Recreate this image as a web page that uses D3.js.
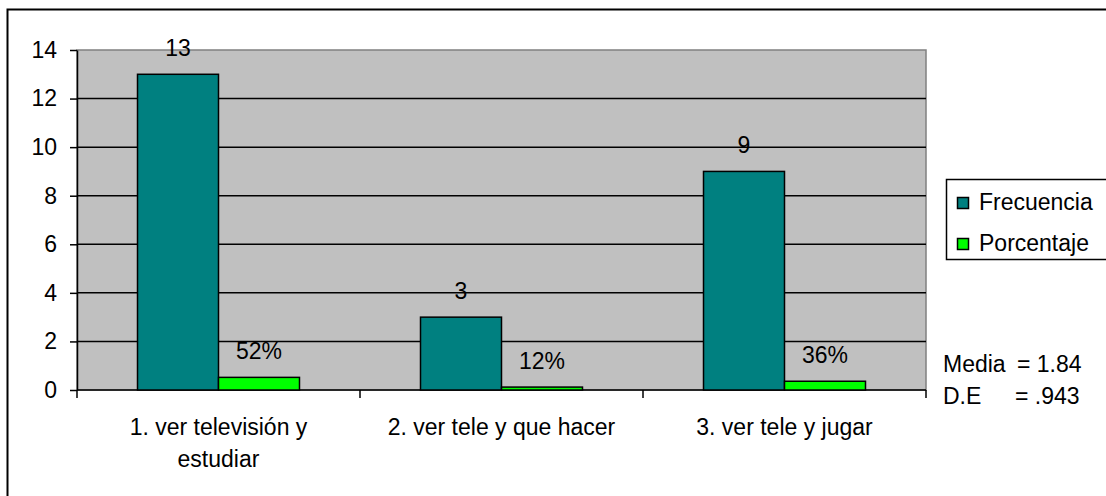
<!DOCTYPE html>
<html>
<head>
<meta charset="utf-8">
<script src="https://cdn.jsdelivr.net/npm/d3@7"></script>
<style>
  body { margin: 0; background: #fff; }
  svg { display: block; font-family: "Liberation Sans", Arial, sans-serif; }
</style>
</head>
<body>
<div id="chart"></div>
<script>
// Chart data
const categories = ['1. ver televisión y|estudiar', '2. ver tele y que hacer', '3. ver tele y jugar'];
const seriesNames = ['Frecuencia', 'Porcentaje'];
const frecuencia = [13, 3, 9];
const porcentaje = [0.52, 0.12, 0.36];
const porcentajeLabels = ['52%', '12%', '36%'];
const yTicks = [0, 2, 4, 6, 8, 10, 12, 14];
const statsLines = [['Media', '= 1.84'], ['D.E', '= .943']];

// Layout
const config = {
    width: 1106,
    height: 496,
    plotLeft: 77,
    plotRight: 926,
    plotTop: 50,
    plotBottom: 390,
    fontSize: 23
};
const colors = { Frecuencia: '#008080', Porcentaje: '#00ff00' };

const svg = d3.select('#chart')
    .append('svg')
    .attr('width', config.width)
    .attr('height', config.height);

// Outer frame (clipped on right and bottom in the original)
svg.append('rect')
    .attr('x', 7.5).attr('y', 9.5)
    .attr('width', 1110).attr('height', 500)
    .attr('fill', 'none')
    .attr('stroke', '#000')
    .attr('stroke-width', 2);

// Scales
const y = d3.scaleLinear()
    .domain([0, 14])
    .range([config.plotBottom, config.plotTop]);

const x0 = d3.scaleBand()
    .domain(categories)
    .range([config.plotLeft, config.plotRight])
    .padding(0);

const x1 = d3.scaleBand()
    .domain(seriesNames)
    .range([0, x0.bandwidth()])
    .paddingInner(0)
    .paddingOuter(0.747);

// Plot background
svg.append('rect')
    .attr('x', config.plotLeft)
    .attr('y', config.plotTop)
    .attr('width', config.plotRight - config.plotLeft)
    .attr('height', config.plotBottom - config.plotTop)
    .attr('fill', '#c0c0c0')
    .attr('stroke', '#808080')
    .attr('stroke-width', 1.5);

// Gridlines
svg.append('g')
    .selectAll('line')
    .data(yTicks.filter(t => t > 0 && t < 14))
    .enter().append('line')
    .attr('x1', config.plotLeft)
    .attr('x2', config.plotRight)
    .attr('y1', d => y(d))
    .attr('y2', d => y(d))
    .attr('stroke', '#000')
    .attr('stroke-width', 1.5);

// Y axis
const yAxis = svg.append('g')
    .attr('transform', `translate(${config.plotLeft},0)`)
    .call(d3.axisLeft(y).tickValues(yTicks).tickSize(7).tickPadding(13).tickSizeOuter(0));
yAxis.select('.domain').attr('stroke', '#000').attr('stroke-width', 1.5);
yAxis.selectAll('.tick line').attr('stroke', '#000').attr('stroke-width', 1.5);
yAxis.selectAll('.tick text')
    .attr('fill', '#000')
    .style('font-size', config.fontSize + 'px')
    .style('font-family', '"Liberation Sans", Arial, sans-serif');

// X axis line and boundary ticks
const boundaries = categories.map(c => x0(c)).concat([config.plotRight]);
svg.append('line')
    .attr('x1', config.plotLeft).attr('x2', config.plotRight)
    .attr('y1', config.plotBottom).attr('y2', config.plotBottom)
    .attr('stroke', '#000').attr('stroke-width', 1.5);
svg.append('g')
    .selectAll('line')
    .data(boundaries)
    .enter().append('line')
    .attr('x1', d => d).attr('x2', d => d)
    .attr('y1', config.plotBottom).attr('y2', config.plotBottom + 8)
    .attr('stroke', '#000').attr('stroke-width', 1.5);

// Category labels
svg.append('g')
    .selectAll('text')
    .data(categories)
    .enter().append('text')
    .attr('text-anchor', 'middle')
    .style('font-size', config.fontSize + 'px')
    .attr('fill', '#000')
    .each(function(d) {
        const t = d3.select(this);
        d.split('|').forEach((line, i) => {
            t.append('tspan')
                .attr('x', x0(d) + x0.bandwidth() / 2)
                .attr('y', 435 + i * 32)
                .text(line);
        });
    });

// Bars
const rows = categories.map((c, i) => ({
    category: c,
    values: [
        { series: 'Frecuencia', value: frecuencia[i], label: String(frecuencia[i]) },
        { series: 'Porcentaje', value: porcentaje[i], label: porcentajeLabels[i] }
    ]
}));

const groups = svg.append('g')
    .selectAll('g')
    .data(rows)
    .enter().append('g')
    .attr('transform', d => `translate(${x0(d.category)},0)`);

groups.selectAll('rect')
    .data(d => d.values)
    .enter().append('rect')
    .attr('x', d => x1(d.series))
    .attr('y', d => y(d.value))
    .attr('width', x1.bandwidth())
    .attr('height', d => config.plotBottom - y(d.value))
    .attr('fill', d => colors[d.series])
    .attr('stroke', '#000')
    .attr('stroke-width', 1.5);

groups.selectAll('text')
    .data(d => d.values)
    .enter().append('text')
    .attr('x', d => x1(d.series) + x1.bandwidth() / 2)
    .attr('y', d => y(d.value) - 18)
    .attr('text-anchor', 'middle')
    .style('font-size', config.fontSize + 'px')
    .attr('fill', '#000')
    .text(d => d.label);

// Legend
const legend = svg.append('g');
legend.append('rect')
    .attr('x', 946.5).attr('y', 179.5)
    .attr('width', 170).attr('height', 80)
    .attr('fill', '#fff')
    .attr('stroke', '#000')
    .attr('stroke-width', 1.5);

seriesNames.forEach((name, i) => {
    legend.append('rect')
        .attr('x', 957.5).attr('y', 197.5 + i * 41)
        .attr('width', 11).attr('height', 11)
        .attr('fill', colors[name])
        .attr('stroke', '#000')
        .attr('stroke-width', 1.5);
    legend.append('text')
        .attr('x', 979).attr('y', 210 + i * 41)
        .style('font-size', config.fontSize + 'px')
        .attr('fill', '#000')
        .text(name);
});

// Statistics note
statsLines.forEach((line, i) => {
    svg.append('text')
        .attr('x', 943).attr('y', 372 + i * 32)
        .style('font-size', config.fontSize + 'px')
        .attr('fill', '#000')
        .text(line[0]);
    svg.append('text')
        .attr('x', i === 0 ? 1017 : 1015).attr('y', 372 + i * 32)
        .style('font-size', config.fontSize + 'px')
        .attr('fill', '#000')
        .text(line[1]);
});
</script>
</body>
</html>
